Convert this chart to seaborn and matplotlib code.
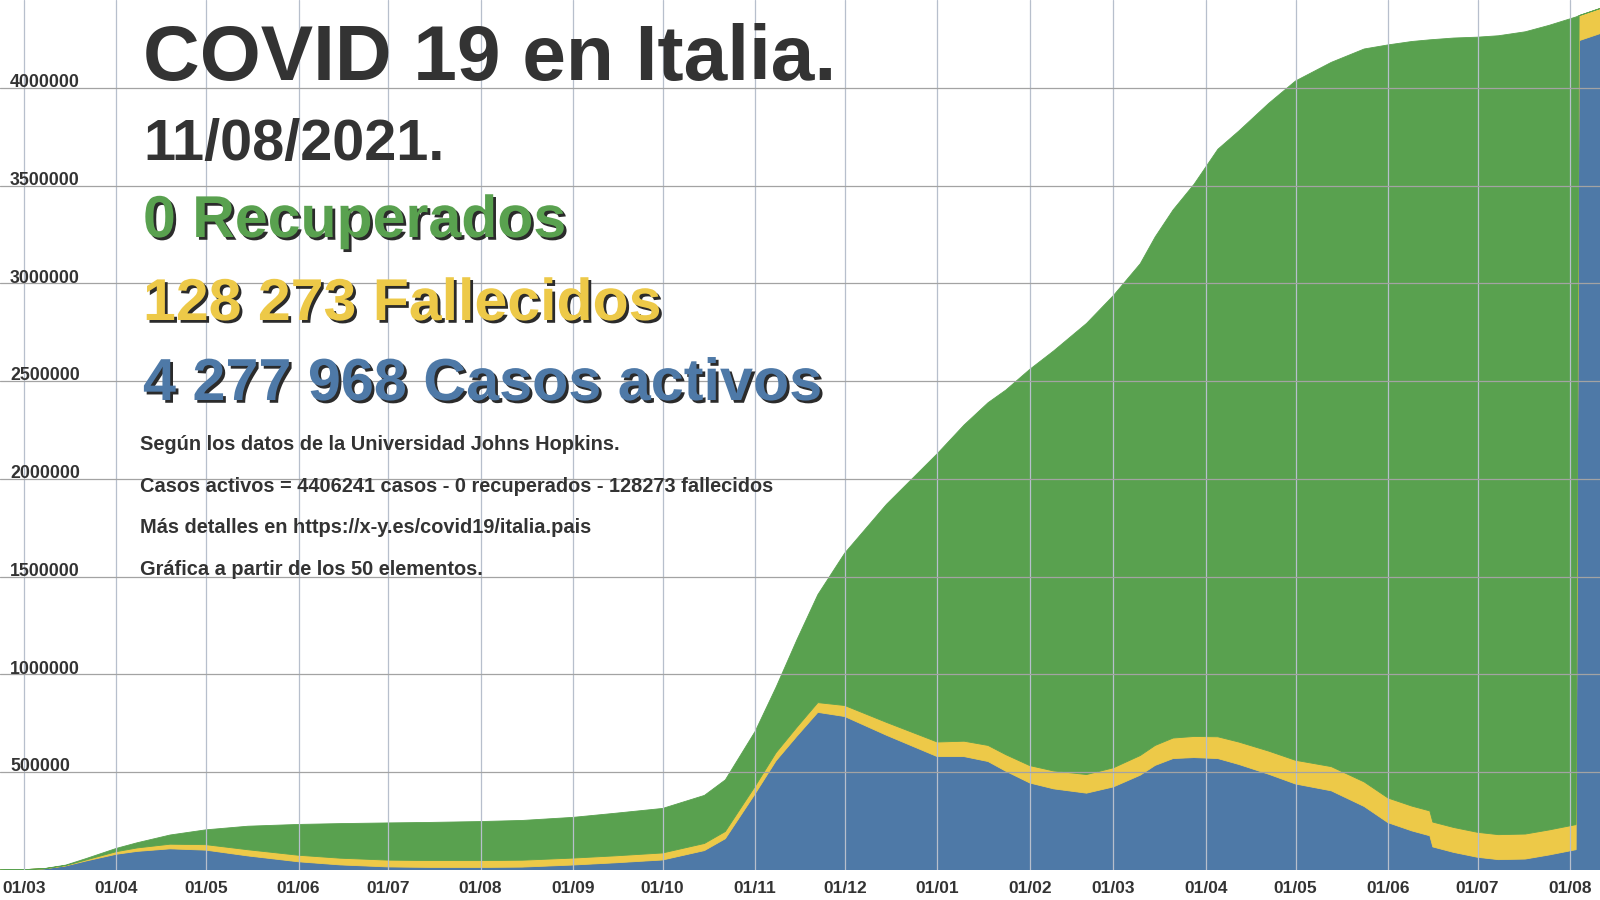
import matplotlib
matplotlib.use("Agg")
import pandas as pd
import matplotlib.pyplot as plt
import matplotlib.dates as mdates
import matplotlib.patheffects as pe
import seaborn as sns

# datos (Johns Hopkins, Italia)
fechas = ["2020-02-22", "2020-03-01", "2020-03-08", "2020-03-15", "2020-03-22",
          "2020-04-01", "2020-04-08", "2020-04-19", "2020-05-01", "2020-05-15",
          "2020-06-01", "2020-06-15", "2020-07-01", "2020-07-15", "2020-08-01",
          "2020-08-15", "2020-09-01", "2020-09-15", "2020-10-01", "2020-10-15",
          "2020-10-22", "2020-11-01", "2020-11-08", "2020-11-15", "2020-11-22",
          "2020-12-01", "2020-12-15", "2021-01-01", "2021-01-10", "2021-01-18",
          "2021-01-24", "2021-02-01", "2021-02-09", "2021-02-20", "2021-03-01",
          "2021-03-10", "2021-03-15", "2021-03-21", "2021-03-28", "2021-04-05",
          "2021-04-12", "2021-04-22", "2021-05-01", "2021-05-13", "2021-05-24",
          "2021-06-01", "2021-06-09", "2021-06-15", "2021-06-16", "2021-06-23",
          "2021-07-01", "2021-07-08", "2021-07-17", "2021-07-25", "2021-08-03",
          "2021-08-04", "2021-08-11"]

activos = [60, 1577, 6387, 20603, 46638, 80572, 95262, 108257, 101551, 72070,
           42000, 26000, 15724, 13231, 12890, 14878, 25499, 36641, 51239, 99266,
           160000, 390000, 558636, 684886, 806257, 785000, 689102, 580000, 580000, 555000,
           505000, 445000, 415000, 393000, 425000, 485000, 535000, 570000, 575000, 570000,
           540000, 490000, 440000, 405000, 325000, 242000, 200000, 175000, 118000, 90000,
           65000, 53000, 56000, 77000, 104000, 4241801, 4277968]

fallecidos = [2, 34, 366, 1809, 5476, 13155, 17669, 23660, 27967, 31610,
              33415, 34371, 34788, 35007, 35146, 35234, 35491, 35633, 35918, 36372,
              36968, 38618, 41394, 45733, 49823, 56361, 65857, 74621, 78755, 82177,
              84674, 88845, 91580, 95235, 97699, 100479, 102145, 104942, 107933, 111326,
              114612, 118357, 121177, 123745, 125622, 126221, 126767, 127153, 127190, 127472,
              127637, 127775, 127884, 127971, 128115, 128163, 128273]

recuperados = [1, 83, 622, 2335, 7024, 16847, 26491, 47055, 75945, 120205,
               157604, 176919, 190248, 195106, 199796, 203326, 208224, 217716, 227704, 245964,
               264000, 280717, 335074, 447910, 552788, 779540, 1115617, 1474755, 1617804, 1752925,
               1865511, 2027112, 2148739, 2307561, 2415672, 2515907, 2601249, 2701434, 2824284, 3005381,
               3124982, 3312588, 3474440, 3602333, 3748829, 3852083, 3911023, 3944128, 4002246, 4037962,
               4067272, 4086330, 4103574, 4115577, 4131259, 0, 0]

y_ticks = [500000, 1000000, 1500000, 2000000, 2500000, 3000000, 3500000, 4000000]
y_max = 4450000

azul = "#4e79a7"
amarillo = "#edc948"
verde = "#59a14f"
texto = "#333333"

sns.set_theme(style="white")
plt.rcParams["font.family"] = ["Liberation Sans", "DejaVu Sans"]
plt.rcParams["font.weight"] = "bold"

df = pd.DataFrame({"fecha": pd.to_datetime(fechas), "activos": activos,
                   "fallecidos": fallecidos, "recuperados": recuperados})

fig = plt.figure(figsize=(16, 9), dpi=100)
ax = fig.add_axes([0, 30 / 900, 1, 870 / 900])

capas = ax.stackplot(df["fecha"], df["activos"], df["fallecidos"], df["recuperados"],
                     colors=[azul, amarillo, verde], linewidth=0.6)
for capa, c in zip(capas, [azul, amarillo, verde]):
    capa.set_edgecolor(c)

ax.set_xlim(df["fecha"].iloc[0], df["fecha"].iloc[-1])
ax.set_ylim(0, y_max)

# rejilla por encima de las areas
ax.set_axisbelow(False)
ax.xaxis.set_major_locator(mdates.MonthLocator())
ax.xaxis.set_major_formatter(mdates.DateFormatter("%d/%m"))
ax.xaxis.grid(True, color="#b7bfcc", linewidth=0.9)
ax.set_yticks(y_ticks)
ax.yaxis.grid(True, color="#a3a3a3", linewidth=0.9)
ax.tick_params(axis="x", length=0, pad=8.2, labelsize=12.5, labelcolor=texto)
ax.tick_params(axis="y", length=0, labelleft=False)
for lbl in ax.get_xticklabels():
    lbl.set_fontweight("bold")

for v in y_ticks:
    ax.text(10 / 1600, v + 4000, str(v), transform=ax.get_yaxis_transform(),
            ha="left", va="baseline", fontsize=12.8, color=texto, fontweight="bold")

sns.despine(ax=ax, left=True, bottom=True)
ax.set_xlabel("")
ax.set_ylabel("")

# textos
casos = activos[-1] + fallecidos[-1] + recuperados[-1]


def miles(n):
    return f"{n:,}".replace(",", " ")


sombra = [pe.SimplePatchShadow(offset=(2, -2), shadow_rgbFace="#2b2b2b", alpha=1.0), pe.Normal()]


def linea(y_px, s, size, color, x_px=143, efectos=None):
    fig.text(x_px / 1600, 1 - y_px / 900, s, fontsize=size, color=color,
             fontweight="bold", ha="left", va="baseline", path_effects=efectos)


linea(80, "COVID 19 en Italia.", 56.5, texto)
linea(160, "11/08/2021.", 41.5, texto)
linea(237, f"{miles(recuperados[-1])} Recuperados", 42.5, verde, efectos=sombra)
linea(320, f"{miles(fallecidos[-1])} Fallecidos", 42.5, amarillo, efectos=sombra)
linea(400, f"{miles(activos[-1])} Casos activos", 42.7, azul, efectos=sombra)

linea(450, "Según los datos de la Universidad Johns Hopkins.", 14.4, texto, x_px=140)
linea(492, f"Casos activos = {casos} casos - {recuperados[-1]} recuperados - "
      f"{fallecidos[-1]} fallecidos", 14.4, texto, x_px=140)
linea(533, "Más detalles en https://x-y.es/covid19/italia.pais", 14.4, texto, x_px=140)
linea(575, "Gráfica a partir de los 50 elementos.", 14.4, texto, x_px=140)

fig.savefig("out.png", dpi=100)
